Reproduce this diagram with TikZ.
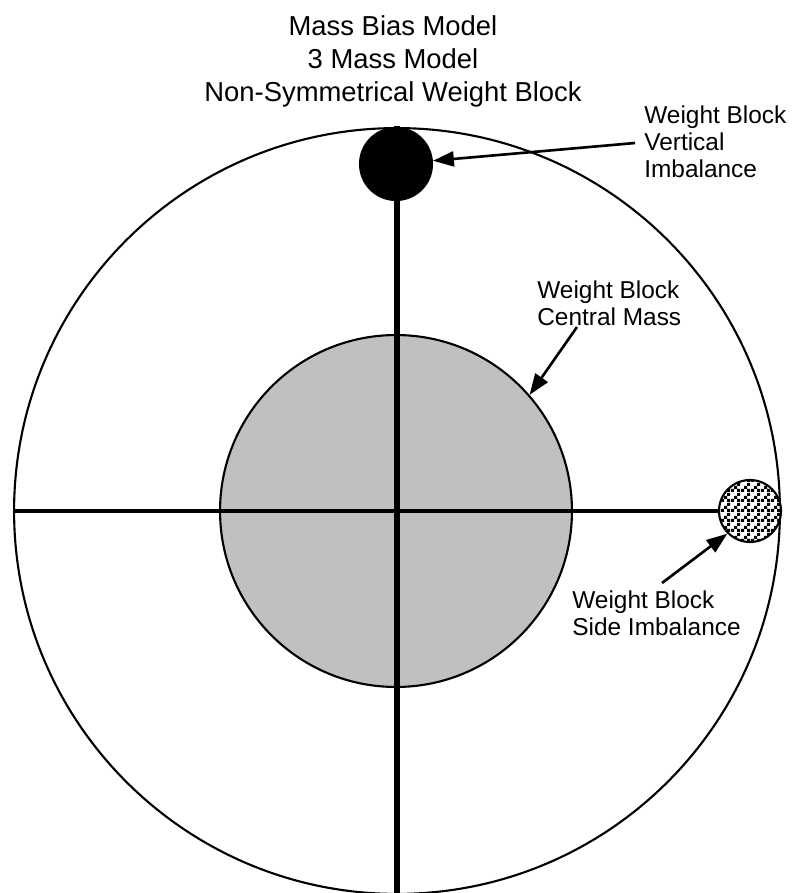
\documentclass[tikz,border=0pt]{standalone}
\usepackage{fontspec}
\setmainfont{Liberation Sans}
\usepackage{tikz}
\usetikzlibrary{positioning,calc}
\usetikzlibrary{arrows.meta,patterns}
\definecolor{MassGray}{RGB}{192,192,192}
\pgfdeclarepatternformonly{finecheck}{\pgfpointorigin}{\pgfqpoint{5.4pt}{5.4pt}}{\pgfqpoint{5.4pt}{5.4pt}}{
  \pgfpathrectangle{\pgfpointorigin}{\pgfqpoint{1.8pt}{1.8pt}}
  \pgfpathrectangle{\pgfqpoint{1.8pt}{1.8pt}}{\pgfqpoint{1.8pt}{1.8pt}}
  \pgfpathrectangle{\pgfqpoint{3.6pt}{3.6pt}}{\pgfqpoint{1.8pt}{1.8pt}}
  \pgfpathrectangle{\pgfqpoint{3.6pt}{0pt}}{\pgfqpoint{1.8pt}{1.8pt}}
  \pgfusepath{fill}}
\tikzset{
  ring/.style={circle,draw=black,line width=1.2pt,inner sep=0pt},
  mass/.style={circle,draw=black,line width=1.2pt,inner sep=0pt},
  axis/.style={draw=black,line width=2pt},
  pointer/.style={draw=black,line width=1.5pt,-{Triangle[length=0.42cm,width=0.3cm]}},
  tag/.style={inner sep=0pt,align=left,font=\fontsize{13.9}{15.4}\selectfont},
  heading/.style={inner sep=0pt,align=center,font=\fontsize{15.6}{19}\selectfont},
}

\begin{document}
\begin{tikzpicture}[x=0.02cm,y=-0.02cm]
\useasboundingbox (0,0) rectangle (805,893);
\coordinate (axtop) at (397,126);
\coordinate (axbot) at (397,900);
\coordinate (vtail) at (635,143);
\coordinate (ctail) at (577,327);
\coordinate (stail) at (662,583);
\node[ring,minimum size=15.32cm] (rim) at (397,511) {};
\node[mass,fill=MassGray,minimum size=7.04cm] (cmass) at (396,511) {};
\node[mass,preaction={fill=white},pattern=finecheck,minimum size=1.24cm] (smass) at (750,511) {};
\draw[axis] (rim.west) -- (smass.west);
\draw[axis,line width=3.1pt] (axtop) -- (axbot);
\node[mass,fill=black,minimum size=1.44cm] (vmass) at (396,164) {};
\node[heading,anchor=north] (title) at (393,15) {Mass Bias Model\\3 Mass Model\\Non-Symmetrical Weight Block};
\node[tag,anchor=north west] (vlabel) at (644,105) {Weight Block\\Vertical\\Imbalance};
\node[tag,anchor=north west] (clabel) at (537,280) {Weight Block\\Central Mass};
\node[tag,anchor=north west] (slabel) at (572,590) {Weight Block\\Side Imbalance};
\draw[pointer] (vtail) -- (vmass);
\draw[pointer] (ctail) -- (cmass.41);
\draw[pointer] (stail) -- (smass.225);
\end{tikzpicture}
\end{document}
